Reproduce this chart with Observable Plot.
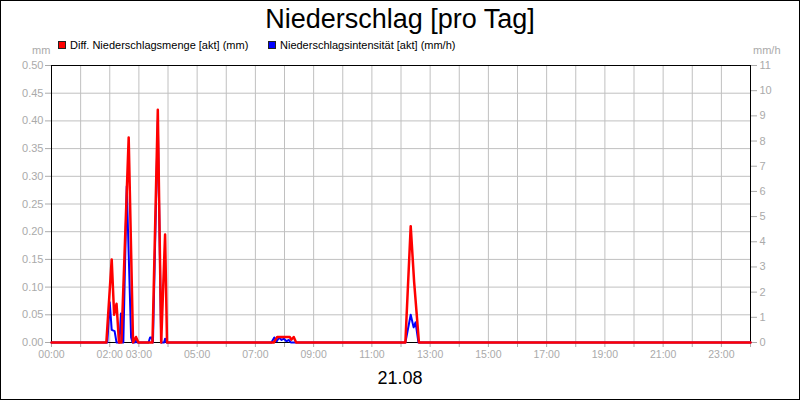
<!DOCTYPE html>
<html>
<head>
<meta charset="utf-8">
<script src="https://cdn.jsdelivr.net/npm/d3@7"></script>
<script src="https://cdn.jsdelivr.net/npm/@observablehq/plot@0.6"></script>
<style>
  body { margin: 0; background: #fff; }
  #wrap { position: relative; width: 800px; height: 400px; overflow: hidden; font-family: "Liberation Sans", Arial, sans-serif; background: #fff; }
  #border { position: absolute; left: 0; top: 0; width: 800px; height: 400px; box-sizing: border-box; border: 1px solid #000; pointer-events: none; }
  .abs { position: absolute; white-space: nowrap; line-height: 1; }
  #title { left: 0; width: 800px; text-align: center; top: 6px; font-size: 27px; color: #000; }
  #date { left: 0; width: 800px; text-align: center; top: 369px; font-size: 18px; color: #000; }
  .unit { font-size: 11px; color: #aaa; top: 45px; }
  .leg { font-size: 11px; color: #000; top: 40px; }
  .sw { display: inline-block; width: 6px; height: 6px; border: 1px solid #222; margin-right: 4px; vertical-align: 0px; }
</style>
</head>
<body>
<div id="wrap">
  <div id="chart"></div>
  <div id="title" class="abs"></div>
  <div id="date" class="abs"></div>
  <div id="uL" class="abs unit" style="left:32px"></div>
  <div id="uR" class="abs unit" style="left:753px"></div>
  <div id="leg1" class="abs leg" style="left:58px"></div>
  <div id="leg2" class="abs leg" style="left:268px"></div>
  <div id="border"></div>
</div>
<script>
// ---- texts ----
const titleText = "Niederschlag [pro Tag]";
const dateText = "21.08";
const unitLeft = "mm";
const unitRight = "mm/h";
const seriesNames = ["Diff. Niederschlagsmenge [akt] (mm)", "Niederschlagsintensität [akt] (mm/h)"];
const seriesColors = ["#ff0000", "#0000ff"];

// ---- x tick labels (hours shown) ----
const labeledHours = [0, 2, 3, 5, 7, 9, 11, 13, 15, 17, 19, 21, 23];

// ---- y ticks ----
const leftTicks = [0, 0.05, 0.10, 0.15, 0.20, 0.25, 0.30, 0.35, 0.40, 0.45, 0.50];
const rightTicks = [0, 1, 2, 3, 4, 5, 6, 7, 8, 9, 10, 11];
const leftMax = 0.5, rightMax = 11;

// ---- red series: Diff. Niederschlagsmenge (mm) ----
const redTimes = ["00:00","01:53","02:04","02:09","02:14","02:19","02:24","02:39","02:48","02:54","02:59",
                  "03:28","03:39","03:46","03:54","03:58","07:38","07:45","08:11","08:14","08:19","08:24",
                  "12:09","12:20","12:27","12:37","24:00"];
const redValues = [0,0,0.15,0.05,0.07,0,0,0.37,0,0.01,0,
                   0,0.42,0,0.195,0,0,0.01,0.01,0.005,0.01,0,
                   0,0.21,0.11,0,0];

// ---- blue series: Niederschlagsintensität (mm/h) ----
const blueTimes = ["00:00","01:55","02:00","02:04","02:10","02:14","02:20","02:23","02:26","02:28","02:35","02:44","02:47",
                   "02:52","02:54","02:57","03:20","03:23","03:26","03:29","03:39","03:46","03:52","03:54","03:57",
                   "07:33","07:39","07:44","07:49","07:54","07:59","08:04","08:09","08:13",
                   "12:09","12:20","12:26","12:30","12:36","24:00"];
const blueValues = [0,0,1.6,0.5,0.45,0,0,1.15,0,0,6.2,0.2,0,
                    0,0.1,0,0,0.2,0.2,0,8.8,0,0,0.15,0,
                    0,0.2,0.05,0.2,0.1,0.15,0.05,0.1,0,
                    0,1.1,0.6,0.8,0,0];

const toMin = s => { const [h, m] = s.split(":").map(Number); return h * 60 + m; };
const red = redTimes.map((t, i) => ({t: toMin(t), v: redValues[i]}));
const blue = blueTimes.map((t, i) => ({t: toMin(t), v: blueValues[i] * leftMax / rightMax}));

const hours = d3.range(0, 25).map(h => h * 60);
const fmtHour = m => { const h = m / 60; return labeledHours.includes(h) ? String(h).padStart(2, "0") + ":00" : ""; };

const chart = Plot.plot({
  width: 800, height: 400,
  marginLeft: 51, marginRight: 50, marginTop: 65, marginBottom: 58,
  style: { fontFamily: "Liberation Sans, Arial, sans-serif", fontSize: "11px", color: "#aaaaaa", background: "transparent", overflow: "visible" },
  x: { domain: [0, 1440] },
  y: { domain: [0, leftMax] },
  marks: [
    Plot.gridX({ ticks: hours, stroke: "#c0c0c0", strokeOpacity: 1 }),
    Plot.gridY({ ticks: leftTicks, stroke: "#c0c0c0", strokeOpacity: 1 }),
    Plot.axisX({ ticks: hours, tickFormat: fmtHour, tickSize: 5, tickPadding: 3, label: null, fontSize: 10.5 }),
    Plot.axisY({ ticks: leftTicks, tickFormat: d3.format(".2f"), tickSize: 6, tickPadding: 2, label: null }),
    Plot.axisY({ anchor: "right", ticks: rightTicks.map(k => k * leftMax / rightMax),
                 tickFormat: d => String(Math.round(d * rightMax / leftMax)), tickSize: 6, tickPadding: 3, label: null }),
    Plot.frame({ stroke: "#000", strokeWidth: 1 }),
    Plot.line(blue, { x: "t", y: "v", stroke: seriesColors[1], strokeWidth: 2 }),
    Plot.line(red, { x: "t", y: "v", stroke: seriesColors[0], strokeWidth: 2.5 })
  ]
});
document.getElementById("chart").appendChild(chart);

document.getElementById("title").textContent = titleText;
document.getElementById("date").textContent = dateText;
document.getElementById("uL").textContent = unitLeft;
document.getElementById("uR").textContent = unitRight;
["leg1", "leg2"].forEach((id, i) => {
  const el = document.getElementById(id);
  const sw = document.createElement("span");
  sw.className = "sw";
  sw.style.background = seriesColors[i];
  el.appendChild(sw);
  el.appendChild(document.createTextNode(seriesNames[i]));
});
</script>
</body>
</html>
